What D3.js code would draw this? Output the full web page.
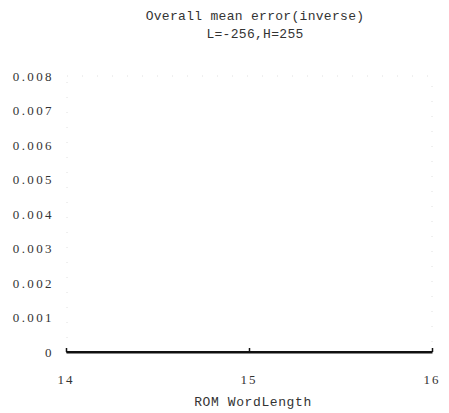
<!DOCTYPE html>
<html>
<head>
<meta charset="utf-8">
<script src="https://cdn.jsdelivr.net/npm/d3@7"></script>
<style>
  html, body { margin: 0; padding: 0; background: #fff; }
  svg { display: block; }
  .mono { font-family: "Liberation Mono", "DejaVu Sans Mono", monospace; }
  .serif { font-family: "Liberation Serif", serif; }
</style>
</head>
<body>
<svg id="chart" width="449" height="413"></svg>
<script>
// chart data
const wordLengths = [14, 15, 16];
const meanError = [0.00001, 0.00001, 0.00001];
const yTicks = [0, 0.001, 0.002, 0.003, 0.004, 0.005, 0.006, 0.007, 0.008];
const titleLines = ["Overall mean error(inverse)", "L=-256,H=255"];
const xLabel = "ROM WordLength";

const margin = { top: 76, right: 17, bottom: 61, left: 66 };
const width = 449, height = 413;

const svg = d3.select("#chart");

const x = d3.scaleLinear()
  .domain([14, 16])
  .range([margin.left, width - margin.right]);

const y = d3.scaleLinear()
  .domain([0, 0.008])
  .range([height - margin.bottom, margin.top]);

// faint scanned frame (dotted)
svg.append("rect")
  .attr("x", x(14) + 1)
  .attr("y", y(0.008))
  .attr("width", x(16) - x(14) - 1)
  .attr("height", y(0) - y(0.008))
  .attr("fill", "none")
  .attr("stroke", "#e0e0e0")
  .attr("stroke-width", 1)
  .attr("stroke-dasharray", "1,14");

// y axis labels (no axis line drawn)
const yAxis = d3.axisLeft(y)
  .tickValues(yTicks)
  .tickSize(0)
  .tickPadding(12)
  .tickFormat(d => d === 0 ? "0" : d3.format(".3f")(d));

const gy = svg.append("g")
  .attr("transform", `translate(${margin.left},0)`)
  .call(yAxis);
gy.select(".domain").remove();
gy.selectAll("text")
  .attr("class", "serif")
  .attr("font-size", 13)
  .attr("fill", "#333")
  .attr("letter-spacing", "2.4px");

// x axis: baseline with small upward ticks
const xAxis = d3.axisTop(x)
  .tickValues(wordLengths)
  .tickSize(4)
  .tickSizeOuter(0)
  .tickFormat("");

const gx = svg.append("g")
  .attr("transform", `translate(0,${y(0)})`)
  .call(xAxis);
gx.select(".domain").attr("stroke", "#111").attr("stroke-width", 2);
gx.selectAll(".tick line").attr("stroke", "#111").attr("stroke-width", 1.5);

// x tick labels
svg.append("g")
  .selectAll("text")
  .data(wordLengths)
  .join("text")
  .attr("class", "serif")
  .attr("x", d => x(d))
  .attr("y", y(0) + 32)
  .attr("text-anchor", "middle")
  .attr("font-size", 13)
  .attr("fill", "#333")
  .attr("letter-spacing", "2px")
  .text(d => d);

// data line
const line = d3.line()
  .x((d, i) => x(wordLengths[i]))
  .y(d => y(d));

svg.append("path")
  .datum(meanError)
  .attr("fill", "none")
  .attr("stroke", "#111")
  .attr("stroke-width", 1.5)
  .attr("d", line);

// title
svg.append("g")
  .selectAll("text")
  .data(titleLines)
  .join("text")
  .attr("class", "mono")
  .attr("x", 255)
  .attr("y", (d, i) => 20 + i * 18)
  .attr("text-anchor", "middle")
  .attr("font-size", 13)
  .attr("fill", "#333")
  .attr("letter-spacing", "0.3px")
  .text(d => d);

// x axis title
svg.append("text")
  .attr("class", "mono")
  .attr("x", 253)
  .attr("y", 406)
  .attr("text-anchor", "middle")
  .attr("font-size", 13)
  .attr("fill", "#333")
  .attr("letter-spacing", "0.6px")
  .text(xLabel);
</script>
</body>
</html>
